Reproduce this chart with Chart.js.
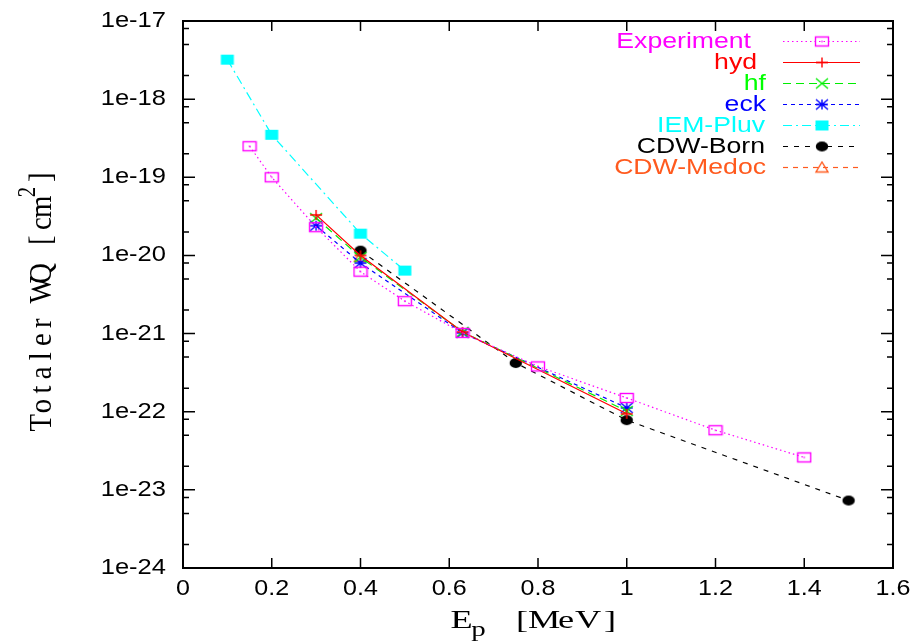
<!DOCTYPE html>
<html>
<head>
<meta charset="utf-8">
<script src="https://cdn.jsdelivr.net/npm/chart.js@4.4.1/dist/chart.umd.min.js"></script>
<style>
  html, body { margin: 0; padding: 0; background: #fff; }
  #wrap { width: 916px; height: 643px; position: relative; }
</style>
</head>
<body>
<div id="wrap"><canvas id="wqChart" width="916" height="643"></canvas></div>
<script>
// Data (energy in MeV, cross section in cm^2)
const expE = [0.15, 0.2, 0.3, 0.4, 0.5, 0.63, 0.8, 1.0, 1.2, 1.4];
const expQ = [2.5e-19, 1.0e-19, 2.3e-20, 6.2e-21, 2.6e-21, 1.02e-21, 3.8e-22, 1.5e-22, 5.8e-23, 2.6e-23];

const hydE = [0.3, 0.4, 0.63, 1.0];
const hydQ = [3.3e-20, 1.0e-20, 1.05e-21, 9.4e-23];

const hfE = [0.3, 0.4, 0.63, 1.0];
const hfQ = [3.0e-20, 9.5e-21, 1.05e-21, 1.02e-22];

const eckE = [0.3, 0.4, 0.63, 1.0];
const eckQ = [2.4e-20, 8.0e-21, 1.02e-21, 1.12e-22];

const iemE = [0.1, 0.2, 0.4, 0.5];
const iemQ = [3.2e-18, 3.5e-19, 1.9e-20, 6.4e-21];

const bornE = [0.4, 0.75, 1.0, 1.5];
const bornQ = [1.15e-20, 4.2e-22, 7.8e-23, 7.3e-24];

const medocE = [0.4];
const medocQ = [9.6e-21];

const xTicks = [0, 0.2, 0.4, 0.6, 0.8, 1, 1.2, 1.4, 1.6];
const yTicks = [1e-24, 1e-23, 1e-22, 1e-21, 1e-20, 1e-19, 1e-18, 1e-17];
const yTickLabels = ['1e-24', '1e-23', '1e-22', '1e-21', '1e-20', '1e-19', '1e-18', '1e-17'];

function pts(xs, ys) {
  return xs.map((x, i) => ({ x: x, y: ys[i] }));
}

// small canvases used as point markers (gnuplot style)
function marker(kind, color) {
  const w = 16, h = 14;
  const c = document.createElement('canvas');
  c.width = w; c.height = h;
  const g = c.getContext('2d');
  g.strokeStyle = color;
  g.fillStyle = color;
  g.lineWidth = 1.4;
  const cx = w / 2, cy = h / 2;
  if (kind === 'box') {
    g.strokeRect(cx - 6.5, cy - 4.5, 13, 9);
    g.fillRect(cx - 0.7, cy - 0.7, 1.4, 1.4);
  } else if (kind === 'fbox') {
    g.fillRect(cx - 6.5, cy - 5, 13, 10);
  } else if (kind === 'circle') {
    g.beginPath();
    g.ellipse(cx, cy, 6.2, 5, 0, 0, Math.PI * 2);
    g.fill();
  } else if (kind === 'plus') {
    g.beginPath();
    g.moveTo(cx - 6, cy); g.lineTo(cx + 6, cy);
    g.moveTo(cx, cy - 5); g.lineTo(cx, cy + 5);
    g.stroke();
  } else if (kind === 'cross') {
    g.beginPath();
    g.moveTo(cx - 6, cy - 5); g.lineTo(cx + 6, cy + 5);
    g.moveTo(cx - 6, cy + 5); g.lineTo(cx + 6, cy - 5);
    g.stroke();
  } else if (kind === 'star') {
    g.beginPath();
    g.moveTo(cx - 6, cy); g.lineTo(cx + 6, cy);
    g.moveTo(cx, cy - 5); g.lineTo(cx, cy + 5);
    g.moveTo(cx - 6, cy - 5); g.lineTo(cx + 6, cy + 5);
    g.moveTo(cx - 6, cy + 5); g.lineTo(cx + 6, cy - 5);
    g.stroke();
  } else if (kind === 'tri') {
    g.beginPath();
    g.moveTo(cx, cy - 5.5); g.lineTo(cx + 6, cy + 4.5); g.lineTo(cx - 6, cy + 4.5);
    g.closePath();
    g.stroke();
  }
  return c;
}

const series = [
  { label: 'Experiment', xs: expE, ys: expQ, color: '#ff00ff', text: '#ff00ff', dash: [1.5, 3], mark: 'box', textRight: 751 },
  { label: 'hyd', xs: hydE, ys: hydQ, color: '#ff0000', text: '#ff0000', dash: [], mark: 'plus', textRight: 757 },
  { label: 'hf', xs: hfE, ys: hfQ, color: '#00ee00', text: '#00ff00', dash: [8, 5], mark: 'cross', textRight: 766 },
  { label: 'eck', xs: eckE, ys: eckQ, color: '#0000ff', text: '#0000ff', dash: [4, 4], mark: 'star', textRight: 766 },
  { label: 'IEM-Pluv', xs: iemE, ys: iemQ, color: '#00ffff', text: '#00ffff', dash: [9, 4, 2, 4], mark: 'fbox', textRight: 765 },
  { label: 'CDW-Born', xs: bornE, ys: bornQ, color: '#000000', text: '#000000', dash: [5, 6], mark: 'circle', textRight: 765 },
  { label: 'CDW-Medoc', xs: medocE, ys: medocQ, color: '#ff5a1e', text: '#ff5a1e', dash: [5, 5], mark: 'tri', textRight: 766 }
];

const datasets = series.map(s => ({
  label: s.label,
  data: pts(s.xs, s.ys),
  borderColor: s.color,
  backgroundColor: s.color,
  borderWidth: 1.2,
  borderDash: s.dash,
  pointStyle: marker(s.mark, s.color),
  pointRadius: 7,
  tension: 0,
  fill: false
}));

function stretchText(ctx, str, x, y, align, sx) {
  ctx.save();
  ctx.translate(x, y);
  ctx.scale(sx, 1);
  ctx.textAlign = align;
  ctx.fillText(str, 0, 0);
  ctx.restore();
}

// typewriter-like text: every char in its own cell, glyphs widened across
function monoText(ctx, str, x, y, adv, sx) {
  for (let i = 0; i < str.length; i++) {
    ctx.save();
    ctx.translate(x + adv * i + adv / 2, y);
    ctx.scale(sx, 1);
    ctx.textAlign = 'center';
    ctx.fillText(str[i], 0, 0);
    ctx.restore();
  }
}

const monoFont = '"Liberation Serif", "DejaVu Serif", serif';

// frame, inward ticks, labels and legend the gnuplot way
const gnuplotDecor = {
  id: 'gnuplotDecor',
  afterDraw(chart) {
    const ctx = chart.ctx;
    const a = chart.chartArea;
    const xs = chart.scales.x, ys = chart.scales.y;
    ctx.save();
    ctx.strokeStyle = '#000';
    ctx.lineWidth = 2;
    ctx.setLineDash([]);
    ctx.strokeRect(a.left, a.top, a.right - a.left, a.bottom - a.top);

    ctx.lineWidth = 1.5;
    ctx.beginPath();
    xTicks.forEach(v => {
      const px = xs.getPixelForValue(v);
      ctx.moveTo(px, a.bottom); ctx.lineTo(px, a.bottom - 10);
      ctx.moveTo(px, a.top); ctx.lineTo(px, a.top + 10);
    });
    yTicks.forEach(v => {
      const py = ys.getPixelForValue(v);
      ctx.moveTo(a.left, py); ctx.lineTo(a.left + 12, py);
      ctx.moveTo(a.right, py); ctx.lineTo(a.right - 12, py);
      if (v < 1e-17) {
        [2, 5, 8].forEach(m => {
          const pm = ys.getPixelForValue(v * m);
          ctx.moveTo(a.left, pm); ctx.lineTo(a.left + 6, pm);
          ctx.moveTo(a.right, pm); ctx.lineTo(a.right - 6, pm);
        });
      }
    });
    ctx.stroke();

    // tick labels
    ctx.fillStyle = '#000';
    ctx.font = '22px "Liberation Sans", Arial, sans-serif';
    ctx.textBaseline = 'middle';
    yTicks.forEach((v, i) => {
      stretchText(ctx, yTickLabels[i], a.left - 17, ys.getPixelForValue(v), 'right', 1.16);
    });
    xTicks.forEach(v => {
      stretchText(ctx, String(v), xs.getPixelForValue(v), a.bottom + 21, 'center', 1.14);
    });

    // axis titles (typewriter style, with sub/superscript)
    ctx.textBaseline = 'alphabetic';
    ctx.font = '25px ' + monoFont;
    monoText(ctx, 'E', 451, 628, 21, 1.45);
    ctx.font = '20px ' + monoFont;
    monoText(ctx, 'p', 470, 636, 17, 1.45);
    ctx.font = '25px ' + monoFont;
    monoText(ctx, '[MeV]', 511, 628, 22, 1.45);

    ctx.save();
    ctx.translate(51, 431);
    ctx.rotate(-Math.PI / 2);
    ctx.scale(1, 1.3);
    ctx.font = '25px ' + monoFont;
    const t1 = 'Totaler WQ [cm';
    monoText(ctx, t1, 0, 0, 16.6, 1.15);
    const w1 = 16.6 * t1.length;
    ctx.font = '19px ' + monoFont;
    monoText(ctx, '2', w1, -12, 13, 1.1);
    ctx.font = '25px ' + monoFont;
    monoText(ctx, ']', w1 + 13, 0, 16.6, 1.15);
    ctx.restore();

    // legend
    ctx.font = '22px "Liberation Sans", Arial, sans-serif';
    ctx.textBaseline = 'middle';
    chart.data.datasets.forEach((ds, i) => {
      const s = series[i];
      const ly = 41.5 + i * 21;
      ctx.fillStyle = s.text;
      stretchText(ctx, s.label, s.textRight, ly, 'right', 1.21);
      ctx.strokeStyle = s.color;
      ctx.lineWidth = 1.2;
      ctx.setLineDash(s.dash);
      ctx.beginPath();
      ctx.moveTo(783, ly); ctx.lineTo(860, ly);
      ctx.stroke();
      ctx.setLineDash([]);
      const img = ds.pointStyle;
      ctx.drawImage(img, 822 - img.width / 2, ly - img.height / 2);
    });
    ctx.restore();
  }
};

const ctx = document.getElementById('wqChart').getContext('2d');
const wqChart = new Chart(ctx, {
  type: 'line',
  data: { datasets: datasets },
  options: {
    responsive: false,
    animation: false,
    layout: { padding: { left: 183, right: 23, top: 21, bottom: 75 } },
    plugins: { legend: { display: false }, tooltip: { enabled: false } },
    scales: {
      x: { type: 'linear', min: 0, max: 1.6, display: false },
      y: { type: 'logarithmic', min: 1e-24, max: 1e-17, display: false }
    }
  },
  plugins: [gnuplotDecor]
});
</script>
</body>
</html>
